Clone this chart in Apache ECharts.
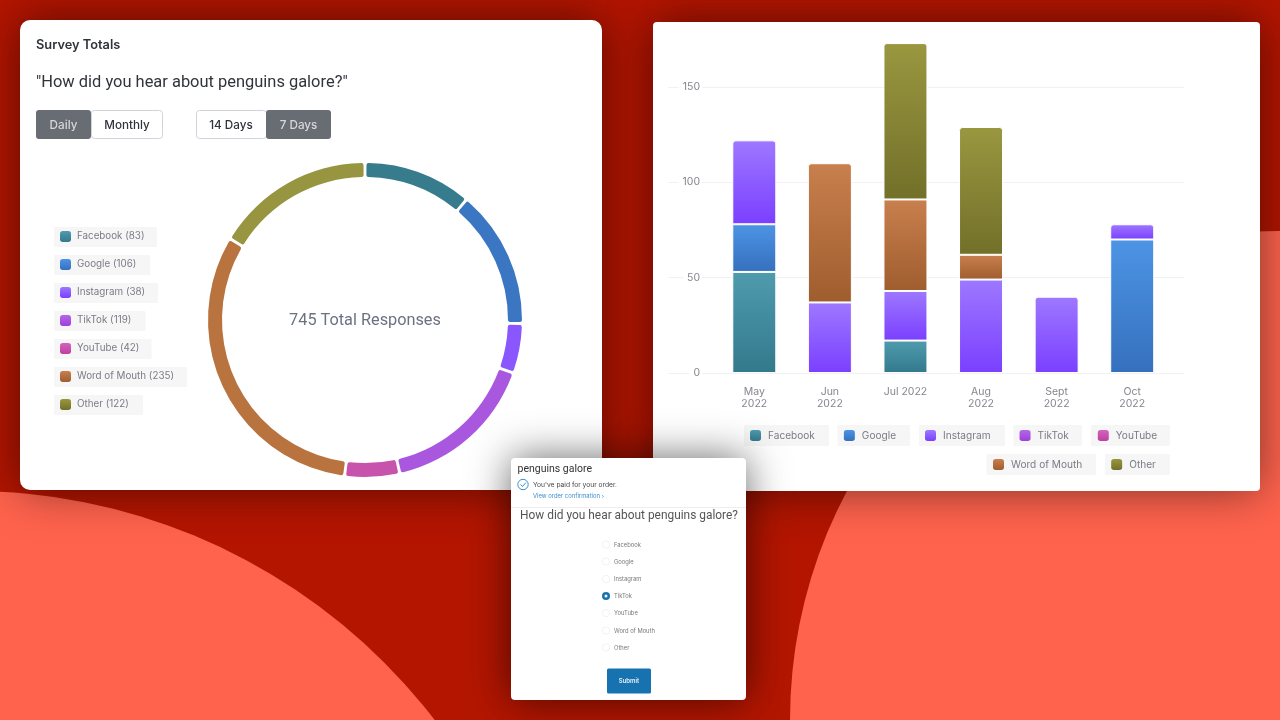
<!DOCTYPE html>
<html>
<head>
<meta charset="utf-8">
<style>html,body{margin:0;padding:0;background:#b31500}#main{width:1280px;height:720px}</style>
<script src="https://cdn.jsdelivr.net/npm/echarts@6/dist/echarts.min.js"></script>
</head>
<body>
<div id="main"></div>
<script>
const channels = ['Facebook','Google','Instagram','TikTok','YouTube','Word of Mouth','Other'];
const channelTotals = [83,106,38,119,42,235,122];
const months = ['May\n2022','Jun\n2022','Jul 2022','Aug\n2022','Sept\n2022','Oct\n2022'];
const facebookByMonth = [53,null,17,null,null,null];
const googleByMonth = [25,null,null,null,null,70];
const instagramByMonth = [44,37,26,49,40,8];
const tiktokByMonth = [null,null,null,null,null,null];
const youtubeByMonth = [null,null,null,null,null,null];
const wordOfMouthByMonth = [null,73,48,13,null,null];
const otherByMonth = [null,null,82,67,null,null];
const yTicksMax = 175;
const totalLabel = '745 Total Responses';

const byMonth = [facebookByMonth,googleByMonth,instagramByMonth,tiktokByMonth,youtubeByMonth,wordOfMouthByMonth,otherByMonth];
const pieColors = ['#367c8d','#3b76c3','#8a57ff','#aa57e0','#c853ad','#b8733f','#979540'];
const barTop = ['#4f9bae','#4d94e5','#9d78ff','#b269e6','#d264bd','#c97f4e','#9a9740'];
const barBottom = ['#33798c','#3570bd','#7b3fff','#9f3fdc','#bf3fa0','#9f5d2e','#727029'];
const FONT = 'Inter, "Noto Sans", sans-serif';
const FONT2 = 'Roboto, Inter, sans-serif';
const grad = (a,b)=>new echarts.graphic.LinearGradient(0,0,0,1,[{offset:0,color:a},{offset:1,color:b}]);

let order = 0;
const el = [];
function rect(x,y,w,h,fill,o){o=o||{};el.push({type:'rect',silent:true,z:o.z===undefined?-1:o.z,z2:++order,
  shape:{x,y,width:w,height:h,r:o.r||0},
  style:{fill,stroke:o.stroke||null,lineWidth:o.lw||0,shadowBlur:o.blur||0,shadowColor:o.shadow||'transparent'}});}
function circle(cx,cy,r,fill,o){o=o||{};el.push({type:'circle',silent:true,z:o.z===undefined?-1:o.z,z2:++order,
  shape:{cx,cy,r},style:{fill,stroke:o.stroke||null,lineWidth:o.lw||0}});}
function text(x,y,t,size,color,o){o=o||{};el.push({type:'text',silent:true,z:o.z===undefined?1:o.z,z2:++order,x,y,
  style:{text:t,fill:color,font:(o.weight||400)+' '+size+'px '+(o.family||FONT),textAlign:o.align||'left',textVerticalAlign:'middle'}});}

// backdrop shapes
circle(-30,1077,586,'#ff634d',{z:-3});
circle(1279,720,489,'#ff634d',{z:-3});
// cards
rect(653,22,607,469,'#fff',{z:-2,r:4,blur:45,shadow:'rgba(0,0,0,.5)'});
rect(20,20,582,470,'#fff',{z:-2,r:10,blur:45,shadow:'rgba(0,0,0,.5)'});

// left panel header
text(36,45,'Survey Totals',12.8,'#30343a',{weight:600});
text(36,82.5,'"How did you hear about penguins galore?"',16.45,'#30343a',{family:FONT2});
rect(91.5,110.5,71,28,'#fff',{r:3,stroke:'#cfd4da',lw:1});
rect(36,110,55,29,'#686c73',{r:3});
rect(196.5,110.5,70,28,'#fff',{r:3,stroke:'#cfd4da',lw:1});
rect(266,110,65,29,'#686c73',{r:3});
text(63.5,125,'Daily',11.7,'#d6d7d9',{align:'center',weight:500});
text(127,125,'Monthly',11.7,'#30343a',{align:'center',weight:500});
text(231,125,'14 Days',11.7,'#30343a',{align:'center',weight:500});
text(298.5,125,'7 Days',11.7,'#d6d7d9',{align:'center',weight:500});

// legend chips
[[54,227,103],[54,255,96],[54,283,104],[54,311,91.5],[54,339,97.5],[54,367,133],[54,395,89]]
  .forEach(c=>rect(c[0],c[1],c[2],20,'#f6f6f7',{r:1}));
[[744,425,85],[837.5,425,72.5],[919,425,86],[1013.5,425,68.5],[1091,425,79],[986.5,454,109.5],[1105,454,65]]
  .forEach(c=>rect(c[0],c[1],c[2],21,'#f6f6f7',{r:1}));

// order page card
const Z = 10;
rect(511,458,235,242,'#fff',{z:Z,r:4,blur:40,shadow:'rgba(0,0,0,.6)'});
rect(511,507,235,1,'#eeeeee',{z:Z});
text(517.5,469,'penguins galore',10.5,'#333',{z:Z,family:FONT2});
circle(523,484.5,5.2,'#fff',{z:Z,stroke:'#3b8fd0',lw:1});
el.push({type:'polyline',silent:true,z:Z,z2:++order,shape:{points:[[520.5,484.5],[522.5,486.5],[525.8,482.6]]},style:{stroke:'#3b8fd0',lineWidth:1,fill:null}});
text(533,484.5,"You've paid for your order.",6.7,'#444',{z:Z});
text(533,496,'View order confirmation ›',5.9,'#3b8fd0',{z:Z});
text(629,516.5,'How did you hear about penguins galore?',11.9,'#555',{z:Z,align:'center',family:FONT2});
[544.5,561.5,579,596,613,630.5,647.5].forEach((y,i)=>{
  if(channels[i]==='TikTok'){
    circle(606,y,4,'#1773b0',{z:Z});
    circle(606,y,1.5,'#fff',{z:Z});
  }else circle(606,y,3.7,'#fff',{z:Z,stroke:'#ececec',lw:.7});
  text(614,y+0.7,channels[i],5.8,'#777',{z:Z});
});
rect(607,668.5,44,25,'#1773b0',{z:Z,r:1.5});
text(629,681,'Submit',6,'#e6f0f7',{z:Z,align:'center',weight:600});

const stackSeries = channels.map((name,i)=>({
  name,type:'bar',stack:'total',xAxisIndex:0,yAxisIndex:0,barWidth:44,
  itemStyle:{color:grad(barTop[i],barBottom[i]),borderColor:'#fff',borderWidth:1},
  emphasis:{disabled:true},
  data:byMonth[i].map((v,m)=>{
    const isTop = v!==null && byMonth.slice(i+1).every(a=>a[m]===null);
    return isTop?{value:v,itemStyle:{borderRadius:[3,3,0,0]}}:v;
  })
}));

const leftLegendText = {color:'#7b7b85',fontSize:9.8,fontFamily:FONT,padding:[0,0,0,1]};
const rightLegendText = {color:'#7b7b85',fontSize:10.1,fontFamily:FONT,padding:[0,0,0,2]};
const zeroY = 373;
const option = {
  animation:false,
  backgroundColor:'#b31500',
  graphic:{elements:el},
  title:{text:totalLabel,left:360,top:308,textAlign:'center',
    textStyle:{fontFamily:FONT2,fontSize:16.3,fontWeight:400,color:'#6b7280'}},
  legend:[
    {data:channels,orient:'vertical',left:60,top:231,itemWidth:11,itemHeight:11,itemGap:17,icon:'roundRect',
     itemStyle:{borderWidth:0},textStyle:leftLegendText,selectedMode:false,padding:0,
     formatter:n=>n+' ('+channelTotals[channels.indexOf(n)]+')'},
    {data:channels.slice(0,5),orient:'horizontal',left:750,top:430,itemWidth:11,itemHeight:11,itemGap:29,icon:'roundRect',
     itemStyle:{borderWidth:0},textStyle:rightLegendText,selectedMode:false,padding:0},
    {data:channels.slice(5),orient:'horizontal',left:993,top:459,itemWidth:11,itemHeight:11,itemGap:29,icon:'roundRect',
     itemStyle:{borderWidth:0},textStyle:rightLegendText,selectedMode:false,padding:0}
  ],
  grid:[
    {left:716.5,width:453.5,top:zeroY-yTicksMax*1.907,height:yTicksMax*1.907,containLabel:false},
    {left:668,width:516,top:zeroY-yTicksMax*1.907,height:yTicksMax*1.907,containLabel:false}
  ],
  xAxis:[
    {type:'category',gridIndex:0,data:months,axisLine:{show:false},axisTick:{show:false},
     axisLabel:{color:'#85858f',fontSize:10.5,fontFamily:FONT,margin:13,lineHeight:12,interval:0}},
    {type:'category',gridIndex:1,data:months,show:false}
  ],
  yAxis:[
    {type:'value',gridIndex:0,min:0,max:yTicksMax,interval:50,show:false,splitLine:{show:false}},
    {type:'value',gridIndex:1,min:0,max:yTicksMax,interval:50,axisLine:{show:false},axisTick:{show:false},
     splitLine:{show:true,showMaxLine:false,lineStyle:{color:'#f1f1f3',width:1}},
     axisLabel:{inside:true,margin:34,align:'right',color:'#85858f',fontSize:10.5,fontFamily:FONT,
       showMaxLabel:false,backgroundColor:'#fff',padding:[1,2,1,4]}}
  ],
  series:[
    {type:'pie',center:[365,320],radius:[143,157],startAngle:90,padAngle:1.1,clockwise:true,
     label:{show:false},labelLine:{show:false},emphasis:{disabled:true},
     itemStyle:{borderRadius:2},
     data:channels.map((name,i)=>({name,value:channelTotals[i],itemStyle:{color:pieColors[i]}}))},
    ...stackSeries
  ]
};
echarts.init(document.getElementById('main')).setOption(option);
</script>
</body>
</html>
